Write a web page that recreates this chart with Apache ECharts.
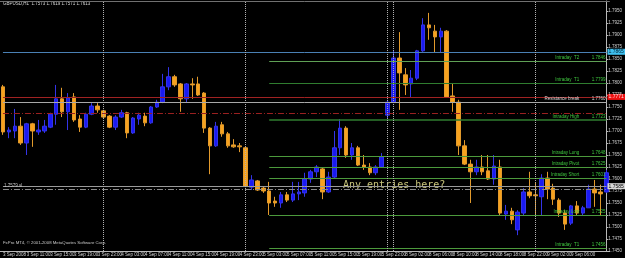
<!DOCTYPE html>
<html><head><meta charset="utf-8">
<script src="https://cdn.jsdelivr.net/npm/echarts@6/dist/echarts.min.js"></script>
<style>html,body{margin:0;padding:0;background:#000;overflow:hidden}#c{width:625px;height:258px}</style>
</head><body><div id="c"></div>
<script>
// ---- data ----
const categories = [
'3 Sep 2008','3 Sep 08:00','3 Sep 09:00','3 Sep 10:00','3 Sep 11:00','3 Sep 12:00','3 Sep 13:00','3 Sep 14:00','3 Sep 15:00','3 Sep 16:00','3 Sep 17:00','3 Sep 18:00','3 Sep 19:00','3 Sep 20:00','3 Sep 21:00','3 Sep 22:00','3 Sep 23:00',
'4 Sep 00:00','4 Sep 01:00','4 Sep 02:00','4 Sep 03:00','4 Sep 04:00','4 Sep 05:00','4 Sep 06:00','4 Sep 07:00','4 Sep 08:00','4 Sep 09:00','4 Sep 10:00','4 Sep 11:00','4 Sep 12:00','4 Sep 13:00','4 Sep 14:00','4 Sep 15:00','4 Sep 16:00','4 Sep 17:00','4 Sep 18:00','4 Sep 19:00','4 Sep 20:00','4 Sep 21:00','4 Sep 22:00','4 Sep 23:00',
'5 Sep 00:00','5 Sep 01:00','5 Sep 02:00','5 Sep 03:00','5 Sep 04:00','5 Sep 05:00','5 Sep 06:00','5 Sep 07:00','5 Sep 08:00','5 Sep 09:00','5 Sep 10:00','5 Sep 11:00','5 Sep 12:00','5 Sep 13:00','5 Sep 14:00','5 Sep 15:00','5 Sep 16:00','5 Sep 17:00','5 Sep 18:00','5 Sep 19:00','5 Sep 20:00','5 Sep 21:00','5 Sep 22:00','5 Sep 23:00',
'7 Sep 23:00',
'8 Sep 00:00','8 Sep 01:00','8 Sep 02:00','8 Sep 03:00','8 Sep 04:00','8 Sep 05:00','8 Sep 06:00','8 Sep 07:00','8 Sep 08:00','8 Sep 09:00','8 Sep 10:00','8 Sep 11:00','8 Sep 12:00','8 Sep 13:00','8 Sep 14:00','8 Sep 15:00','8 Sep 16:00','8 Sep 17:00','8 Sep 18:00','8 Sep 19:00','8 Sep 20:00','8 Sep 21:00','8 Sep 22:00','8 Sep 23:00',
'9 Sep 00:00','9 Sep 01:00','9 Sep 02:00','9 Sep 03:00','9 Sep 04:00','9 Sep 05:00','9 Sep 06:00','9 Sep 07:00','9 Sep 08:00','9 Sep 09:00','9 Sep 10:00','9 Sep 11:00','9 Sep 12:00'
];
const opens = [
1.7792,1.7698,1.7700,1.7710,1.7675,1.7715,1.7698,1.7700,1.7708,1.7735,1.7767,1.7740,1.7771,1.7725,1.7708,1.7735,1.7752,
1.7742,1.7731,1.7708,1.7729,1.7738,1.7696,1.7725,1.7731,1.7717,1.7750,1.7760,1.7792,1.7813,1.7798,1.7767,1.7798,1.7798,1.7779,1.7706,1.7669,1.7713,1.7694,1.7671,1.7669,
1.7665,1.7583,1.7596,1.7581,1.7575,1.7554,1.7550,1.7567,1.7556,1.7569,1.7571,1.7600,1.7615,1.7621,1.7573,1.7604,1.7665,1.7706,1.7650,1.7665,1.7629,1.7625,1.7613,1.7625,
1.7733,
1.7760,1.7852,1.7817,1.7798,1.7810,1.7867,1.7921,1.7908,1.7896,1.7908,1.7773,1.7760,1.7669,1.7631,1.7615,1.7625,1.7617,1.7600,1.7625,1.7527,1.7533,1.7494,1.7529,1.7573,
1.7567,1.7563,1.7602,1.7581,1.7556,1.7529,1.7508,1.7544,1.7529,1.7540,1.7579,1.7573,1.7573
];
const closes = [
1.7698,1.7702,1.7710,1.7675,1.7715,1.7700,1.7702,1.7710,1.7735,1.7767,1.7740,1.7769,1.7723,1.7708,1.7735,1.7752,1.7744,
1.7729,1.7708,1.7729,1.7738,1.7696,1.7727,1.7733,1.7717,1.7750,1.7760,1.7792,1.7813,1.7796,1.7767,1.7798,1.7796,1.7775,1.7706,1.7669,1.7710,1.7694,1.7669,1.7667,1.7667,
1.7585,1.7598,1.7577,1.7575,1.7550,1.7550,1.7567,1.7556,1.7569,1.7573,1.7600,1.7615,1.7625,1.7573,1.7604,1.7665,1.7706,1.7650,1.7665,1.7629,1.7625,1.7613,1.7625,1.7646,
1.7760,
1.7852,1.7821,1.7796,1.7810,1.7867,1.7921,1.7915,1.7896,1.7908,1.7771,1.7760,1.7669,1.7631,1.7615,1.7625,1.7615,1.7600,1.7627,1.7529,1.7533,1.7515,1.7531,1.7573,1.7565,
1.7565,1.7602,1.7579,1.7558,1.7529,1.7506,1.7544,1.7529,1.7540,1.7579,1.7571,1.7569,1.7613
];
const lows = [
1.7692,1.7685,1.7685,1.7671,1.7650,1.7667,1.7692,1.7696,1.7706,1.7713,1.7729,1.7702,1.7719,1.7698,1.7706,1.7733,1.7738,
1.7727,1.7706,1.7702,1.7727,1.7685,1.7694,1.7713,1.7710,1.7715,1.7748,1.7758,1.7785,1.7792,1.7740,1.7760,1.7767,1.7773,1.7696,1.7610,1.7667,1.7688,1.7665,1.7665,1.7656,
1.7583,1.7577,1.7575,1.7571,1.7525,1.7542,1.7540,1.7552,1.7552,1.7556,1.7563,1.7592,1.7604,1.7558,1.7571,1.7602,1.7650,1.7644,1.7640,1.7627,1.7619,1.7608,1.7608,1.7623,
1.7727,
1.7758,1.7744,1.7775,1.7769,1.7806,1.7865,1.7890,1.7863,1.7863,1.7769,1.7740,1.7650,1.7629,1.7550,1.7608,1.7608,1.7598,1.7588,1.7525,1.7515,1.7506,1.7483,1.7525,1.7560,
1.7525,1.7525,1.7558,1.7546,1.7521,1.7494,1.7504,1.7525,1.7523,1.7540,1.7542,1.7525,1.7571
];
const highs = [
1.7796,1.7708,1.7746,1.7729,1.7717,1.7717,1.7723,1.7723,1.7738,1.7796,1.7790,1.7779,1.7779,1.7733,1.7738,1.7758,1.7758,
1.7744,1.7733,1.7733,1.7744,1.7740,1.7729,1.7738,1.7738,1.7752,1.7765,1.7819,1.7833,1.7817,1.7800,1.7800,1.7810,1.7813,1.7781,1.7708,1.7719,1.7719,1.7698,1.7683,1.7675,
1.7667,1.7608,1.7598,1.7585,1.7594,1.7563,1.7573,1.7573,1.7594,1.7594,1.7613,1.7619,1.7629,1.7623,1.7615,1.7700,1.7725,1.7710,1.7675,1.7669,1.7650,1.7633,1.7629,1.7654,
1.7765,
1.7869,1.7906,1.7831,1.7827,1.7869,1.7935,1.7946,1.7921,1.7915,1.7910,1.7800,1.7765,1.7681,1.7640,1.7640,1.7650,1.7650,1.7650,1.7640,1.7546,1.7540,1.7535,1.7581,1.7615,
1.7592,1.7610,1.7615,1.7590,1.7560,1.7535,1.7546,1.7554,1.7544,1.7588,1.7598,1.7588,1.7619
];
const yMin = 1.7450;
const yMax = 1.79708;
const yTickInterval = 0.0025;
const levelNames = ['', 'Intraday  T2', 'Intraday  T1', '', 'Resistance break', '', 'Intraday High', 'Intraday Long', 'Intraday Pivot', 'Intraday Short', '', '', 'Intraday Low', 'Intraday  T1'];
const levelPrices = [1.7865, 1.7846, 1.7799, 1.7771, 1.7760, 1.7738, 1.7723, 1.7648, 1.7625, 1.7601, 1.7585, 1.7579, 1.7525, 1.7456];
const levelStartBars = [0, 45, 45, 0, 0, 0, 45, 45, 45, 45, 0, 0, 45, 45];
const separatorBars = ['4 Sep 00:00', '5 Sep 00:00', '7 Sep 23:00', '8 Sep 00:00', '9 Sep 00:00'];
const titleText = 'GBPUSD,H1  1.7573 1.7619 1.7571 1.7613';
const copyrightText = 'FxPro MT4, \u00a9 2001-2008 MetaQuotes Software Corp.';
const noteText = 'Any entries here?';

// ---- styles (by level index) ----
const G = '#4c9a3c', GD = '#2f7d2f', GT = '#3fc83f';
const levelStyles = [
  {color:'#4a80b4', type:'solid', box:{bg:'#3fc0ef', fg:'#002030'}},
  {color:'#5fa055', type:'solid', txt:GT},
  {color:GD, type:'solid', txt:GT},
  {color:'#a02222', type:'solid', box:{bg:'#ee1111', fg:'#ffdddd'}},
  {color:'#a8a8a8', type:'solid', txt:'#d8d8d8'},
  {color:'#9a2020', type:[6,2,1,2]},
  {color:GD, type:'solid', txt:GT, width:1.5},
  {color:G, type:'solid', txt:GT},
  {color:G, type:'solid', txt:GT},
  {color:G, type:'solid', txt:GT},
  {color:'#9a9a9a', type:'solid', box:{bg:'#d8d8d8', fg:'#000'}},
  {color:'#8a8a8a', type:[6,2,1,2], left:'#c0c0c0'},
  {color:G, type:'solid', txt:GT},
  {color:G, type:'solid', txt:GT}
];
const FONT = 'Liberation Sans';
const last = categories[categories.length - 1];

const levelLines = levelPrices.map((p, i) => {
  const st = levelStyles[i];
  let label = {show:false};
  if (st.box) {
    label = {show:true, position:'end', distance:1, formatter: p.toFixed(4), fontSize:5, fontFamily:FONT,
      color: st.box.fg, backgroundColor: st.box.bg, padding:[1,2,0,1]};
  } else if (st.txt) {
    label = {show:true, position:'insideEndTop', distance:1, fontSize:4.5, fontFamily:FONT, color: st.txt,
      formatter: levelNames[i] + '          ' + p.toFixed(4)};
  } else if (st.left) {
    label = {show:true, position:'insideStartTop', distance:1, fontSize:4.5, fontFamily:FONT, color: st.left,
      formatter: p.toFixed(4) + ' sl'};
  }
  return [
    {coord:[categories[levelStartBars[i]], p], lineStyle:{color:st.color, type:st.type, width:st.width || 1}, label},
    {coord:[last, p]}
  ];
});
const sepLines = separatorBars.map(c => ({xAxis:c, lineStyle:{color:'#b0b0b0', type:'dotted', width:1}, label:{show:false}}));

const chart = echarts.init(document.getElementById('c'), null, {renderer:'canvas'});
chart.setOption({
  backgroundColor:'#000',
  animation:false,
  grid:{left:-2.8, right:10.8, top:1, bottom:7, containLabel:false},
  xAxis:[{
    type:'category', data:categories, boundaryGap:true,
    axisLine:{lineStyle:{color:'#b8b8b8', width:1}},
    axisTick:{interval:3, length:2, alignWithLabel:true, lineStyle:{color:'#b8b8b8'}},
    axisLabel:{interval:3, align:'left', margin:1, fontSize:4.5, fontFamily:FONT, color:'#d0d0d0'},
    splitLine:{show:false}
  },{
    type:'category', data:categories, position:'top',
    axisLine:{lineStyle:{color:'#707070', width:1}}, axisTick:{show:false}, axisLabel:{show:false}
  }],
  yAxis:{
    type:'value', position:'right', offset:-3.2, min:yMin, max:yMax, interval:yTickInterval, scale:true,
    axisLine:{show:true, lineStyle:{color:'#b8b8b8'}},
    axisTick:{show:true, length:2, lineStyle:{color:'#b8b8b8'}},
    axisLabel:{fontSize:4.5, fontFamily:FONT, color:'#d0d0d0', margin:2, showMaxLabel:false,
      formatter: v => v.toFixed(4)},
    splitLine:{show:false}
  },
  series:[{
    type:'candlestick',
    data: opens.map((o, i) => [o, closes[i], lows[i], highs[i]]),
    barWidth:4,
    itemStyle:{color:'#1a1af2', color0:'#f7a21e', borderColor:'#3434e8', borderColor0:'#e29a2c', borderWidth:1},
    markLine:{silent:true, symbol:['none','none'], animation:false, data: levelLines.concat(sepLines)}
  }],
  graphic:[
    {type:'text', left:3, top:1, style:{text:titleText, fill:'#d8d8d8', font:'4.5px "Liberation Sans"'}},
    {type:'text', left:3, top:241, style:{text:copyrightText, fill:'#c8c8c8', font:'4.3px "Liberation Sans"'}},
    {type:'text', left:343, top:180, style:{text:noteText, fill:'#c8c47a', font:'10px "DejaVu Sans Mono"'}}
  ]
});
</script></body></html>
